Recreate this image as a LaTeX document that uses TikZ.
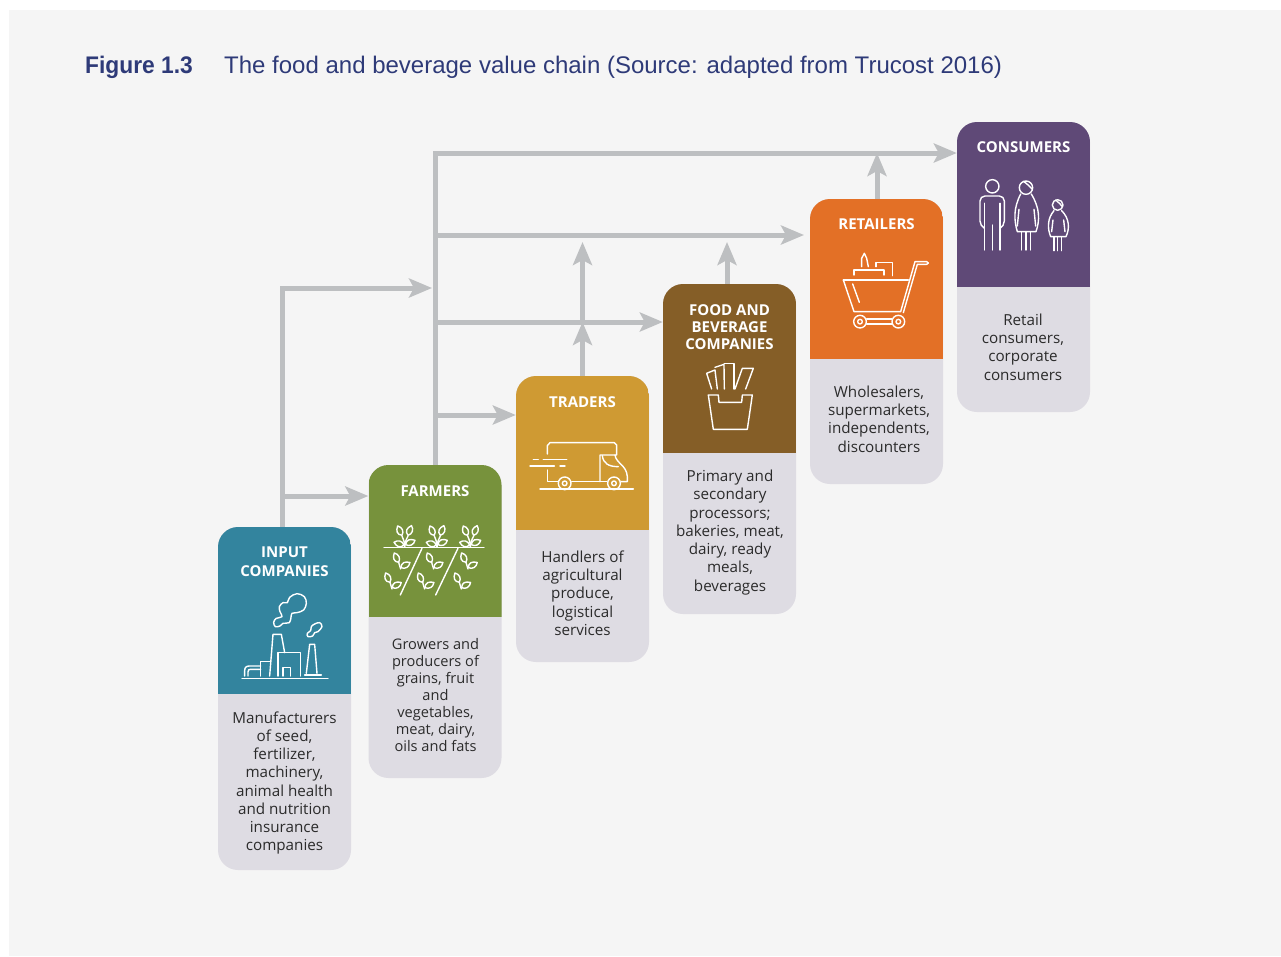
\documentclass[tikz,border=0pt]{standalone}
\usepackage{fontspec}
\setmainfont{Open Sans}
\newfontfamily\headfont{Liberation Sans}
\newfontfamily\figfont[FakeStretch=0.95]{Liberation Sans}
\usetikzlibrary{arrows.meta}
\definecolor{cPage}{HTML}{F5F5F5}
\definecolor{cNavy}{HTML}{2E3A78}
\definecolor{cFlow}{HTML}{BDBFC1}
\definecolor{cCard}{HTML}{DEDCE3}
\definecolor{cText}{HTML}{2B2B2B}
\definecolor{cInput}{HTML}{33849E}
\definecolor{cFarm}{HTML}{77923C}
\definecolor{cTrade}{HTML}{CF9A33}
\definecolor{cFood}{HTML}{855E27}
\definecolor{cRetail}{HTML}{E37026}
\definecolor{cConsume}{HTML}{5F4977}
\tikzset{card/.style n args={3}{
  shape=rectangle,
  fill=cCard,
  rounded corners=20pt,
  inner sep=0pt,
  minimum width=133pt,
  minimum height=#2,
  path picture={\fill[#1, sharp corners] (path picture bounding box.north west) rectangle ([yshift=-#3]path picture bounding box.north east);},
  }
}
\tikzset{cardtitle/.style={
  text = white,
  align = center,
  inner sep=0pt,
  font=\fontsize{15}{19}\selectfont\bfseries,
  }
}
\tikzset{cardtext/.style={
  text = cText,
  align = center,
  inner sep=0pt,
  font=\fontsize{15.2}{18.25}\selectfont,
  }
}
\tikzset{flow/.style={
  draw=cFlow,
  line width=5pt,
  -{Stealth[length=23pt,width=19pt,inset=5pt]},
  }
}
\tikzset{icon/.style={
  draw=white,
  line width=1.4pt,
  line join=round,
  line cap=round,
  }
}
\tikzset{leaf/.pic={
  \draw[icon] (0,0) .. controls (8,-13) and (20,-11) .. (31,0) .. controls (22,11) and (8,11) .. (0,0);
  }
}
\tikzset{sprout/.pic={
  \draw[icon] (0,0) -- (0,-12);
  \draw[icon] (0,0) .. controls (-1,-15) .. (-8,-32);
  \draw[icon] (0,0) .. controls (2,-15) .. (10,-32);
  \pic[rotate=165] at (-2,-5) {leaf};
  \pic[rotate=25] at (3,-6) {leaf};
  \pic[rotate=115] at (-8,-34) {leaf};
  \pic[rotate=70] at (10,-34) {leaf};
  }
}
\tikzset{shoot/.pic={
  \draw[icon] (0,0) -- (-6,-20);
  \pic[rotate=115] at (-6,-20) {leaf};
  \pic[rotate=30] at (1,-4) {leaf};
  }
}

\begin{document}
\begin{tikzpicture}[x=1pt,y=-1pt]
  \useasboundingbox (0,0) rectangle (1281,956);
  \coordinate (pageA) at (9,10);
  \coordinate (pageB) at (1281,956);
  \fill[cPage] (pageA) rectangle (pageB);

  \node[anchor=base west, inner sep=0pt, text=cNavy, font=\figfont\fontsize{24}{30}\selectfont\bfseries] (figno) at (85,73.5) {Figure 1.3};
  \node[anchor=base west, inner sep=0pt, text=cNavy, font=\headfont\fontsize{24}{30}\selectfont] (figtitle) at (224,73.5) {The food and beverage value chain (Source: adapted from Trucost 2016)};

  % cards
  \node[card={cInput}{343pt}{167pt}] (input) at (284.5,698.5) {};
  \node[card={cFarm}{313pt}{152pt}] (farmers) at (435,621.5) {};
  \node[card={cTrade}{286pt}{154pt}] (traders) at (582.5,519) {};
  \node[card={cFood}{330pt}{169pt}] (food) at (729.5,449) {};
  \node[card={cRetail}{285pt}{160pt}] (retailers) at (876.5,341.5) {};
  \node[card={cConsume}{290pt}{165pt}] (consumers) at (1023.5,267) {};

  \node[cardtitle] (inputtitle) at (284.5,562) {INPUT\\COMPANIES};
  \node[cardtitle] (farmerstitle) at (435,491.5) {FARMERS};
  \node[cardtitle] (traderstitle) at (582.5,402.5) {TRADERS};
  \node[cardtitle, font=\fontsize{15}{17}\selectfont\bfseries] (foodtitle) at (729.5,327.5) {FOOD AND\\BEVERAGE\\COMPANIES};
  \node[cardtitle] (retailerstitle) at (876.5,224.5) {RETAILERS};
  \node[cardtitle] (consumerstitle) at (1023.5,147.5) {CONSUMERS};

  \node[cardtext] (inputtext) at (284.5,783) {Manufacturers\\of seed,\\fertilizer,\\machinery,\\animal health\\and nutrition\\insurance\\companies};
  \node[cardtext, font=\fontsize{14.6}{16.85}\selectfont] (farmerstext) at (435.5,695) {Growers and\\producers of\\grains, fruit\\and\\vegetables,\\meat, dairy,\\oils and fats};
  \node[cardtext] (traderstext) at (582.5,593) {Handlers of\\agricultural\\produce,\\logistical\\services};
  \node[cardtext] (foodtext) at (730,532.5) {Primary and\\secondary\\processors;\\bakeries, meat,\\dairy, ready\\meals,\\beverages};
  \node[cardtext] (retailerstext) at (879,419) {Wholesalers,\\supermarkets,\\independents,\\discounters};
  \node[cardtext] (consumerstext) at (1023,347) {Retail\\consumers,\\corporate\\consumers};

  % flows
  \coordinate (upA) at (282.5,288);
  \coordinate (upB) at (282.5,496);
  \coordinate (spineA) at (432,288);
  \coordinate (spineB) at (435.5,153);
  \coordinate (spineC) at (435.5,235);
  \coordinate (spineD) at (435.5,322);
  \coordinate (spineE) at (435.5,415);
  \coordinate (toRetail) at (804,235);
  \coordinate (midA) at (582.5,322);
  \coordinate (midB) at (582.5,242);
  \coordinate (foodup) at (727,242);
  \coordinate (retailup) at (877,153);

  \draw[flow] ([xshift=-2pt]input.north) -- (upA) -- (spineA);
  \draw[flow] (upB) -- (farmers.west |- upB);
  \draw[flow] (spineB |- farmers.north) -- (spineB) -- (consumers.west |- spineB);
  \draw[flow] (spineC) -- (toRetail);
  \draw[flow] (spineD) -- (food.west |- spineD);
  \draw[flow] (spineE) -- (traders.west |- spineE);
  \draw[flow] (traders.north) -- (midA);
  \draw[flow] (midA) -- (midB);
  \draw[flow] (foodup |- food.north) -- (foodup);
  \draw[flow] (retailup |- retailers.north) -- (retailup);

  % factory
  \begin{scope}[shift={(218,460)},x=0.3333pt,y=-0.3333pt]
    \draw[icon] (72,655) -- (330,655);
    \draw[icon] (155,648) -- (165,523) -- (190,523) -- (200,578);
    \draw[icon] (180,648) -- (180,578) -- (247,578) -- (247,648);
    \draw[icon] (195,648) -- (195,623) -- (217,623) -- (217,648);
    \draw[icon] (128,648) -- (128,604) -- (155,604);
    \draw[icon] (80,648) -- (80,632) .. controls (80,622) and (85,618) .. (95,618) -- (128,618);
    \draw[icon] (90,648) -- (90,636) .. controls (90,630) and (92,628) .. (98,628) -- (128,628);
    \draw[icon] (265,640) -- (275,553) -- (290,553) -- (297,640);
    \draw[icon] (260,645) -- (310,645);
    \draw[icon] plot[smooth cycle, tension=0.6] coordinates {(215,412) (237,401) (259,410) (265,430) (257,450) (237,458) (222,460) (219,472) (214,488) (195,490) (186,498) (172,500) (167,487) (175,475) (192,470) (186,455) (184,440) (195,428) (208,428)};
    \draw[icon] plot[smooth cycle, tension=0.6] coordinates {(290,492) (305,488) (312,500) (300,515) (290,518) (284,528) (270,530) (268,520) (278,512) (280,500)};
  \end{scope}

  % plants
  \begin{scope}[shift={(218,460)},x=0.3333pt,y=-0.3333pt]
    \draw[icon] (498,263) -- (798,263);
    \draw[icon] (612,265) -- (547,405);
    \draw[icon] (720,265) -- (653,405);
    \pic at (560,260) {sprout};
    \pic at (657,260) {sprout};
    \pic at (757,260) {sprout};
    \pic at (548,327) {shoot};
    \pic at (647,327) {shoot};
    \pic at (750,327) {shoot};
    \pic at (522,387) {shoot};
    \pic at (620,387) {shoot};
    \pic at (730,387) {shoot};
  \end{scope}

  % truck
  \begin{scope}[shift={(515,280)},x=0.3333pt,y=-0.3333pt]
    \draw[icon] (97,522) -- (97,497) -- (105,488) -- (298,488) -- (305,495) -- (305,525) -- (255,525) -- (255,605);
    \draw[icon] (97,570) -- (97,605) -- (128,605);
    \draw[icon] (170,605) -- (276,605);
    \draw[icon] (300,525) .. controls (303,550) and (335,555) .. (337,590) -- (337,605) -- (318,605);
    \draw[icon] (262,527) .. controls (265,550) and (280,560) .. (310,560);
    \draw[icon] (75,627) -- (355,627);
    \draw[icon] (55,538) -- (70,538);
    \draw[icon] (85,538) -- (155,538);
    \draw[icon] (45,558) -- (118,558);
    \draw[icon] (135,558) -- (150,558);
    \draw[icon] (149,610) circle[radius=19];
    \draw[icon] (149,610) circle[radius=7];
    \draw[icon] (297,610) circle[radius=19];
    \draw[icon] (297,610) circle[radius=7];
  \end{scope}

  % fries
  \begin{scope}[shift={(515,280)},x=0.3333pt,y=-0.3333pt]
    \draw[icon] (580,345) -- (610,345) -- (612,367) -- (680,367) -- (682,345) -- (712,345) -- (697,448) -- (595,448) -- cycle;
    \draw[icon] (590,327) -- (575,280) -- (600,270) -- (607,327);
    \draw[icon] (600,262) -- (627,253) -- (628,327);
    \draw[icon] (628,250) -- (657,250) -- (657,327);
    \draw[icon] (660,327) -- (682,265) -- (715,265) -- (692,327);
  \end{scope}

  % cart
  \begin{scope}[shift={(810,120)},x=0.3333pt,y=-0.3333pt]
    \draw[icon] (100,480) -- (295,480);
    \draw[icon] (100,480) -- (132,575) -- (272,575) -- (315,425) -- (350,425) -- (355,429) -- (350,433) -- (322,433) -- (280,578);
    \draw[icon] (128,492) -- (148,547);
    \draw[icon] (132,465) -- (132,450) -- (222,450) -- (222,465);
    \draw[icon] (198,440) -- (198,428) -- (247,428) -- (247,467);
    \draw[icon] (155,440) -- (155,415) -- (163,400) -- (170,415) -- (175,440);
    \draw[icon] (170,597) -- (245,597);
    \draw[icon] (170,612) -- (245,612);
    \draw[icon] (150,605) circle[radius=19];
    \draw[icon] (150,605) circle[radius=7];
    \draw[icon] (265,605) circle[radius=19];
    \draw[icon] (265,605) circle[radius=7];
  \end{scope}

  % people
  \begin{scope}[shift={(810,120)},x=0.3333pt,y=-0.3333pt]
    \draw[icon] (547,199) circle[radius=20];
    \draw[icon, rounded corners=5pt] (523,325) -- (510,318) -- (510,228) -- (583,228) -- (583,318) -- (570,325);
    \draw[icon] (523,250) -- (523,390);
    \draw[icon] (570,250) -- (570,390);
    \draw[icon] (547,315) -- (547,390);
    \draw[icon] (648,203) circle[radius=20];
    \draw[icon] (640,184) .. controls (650,190) and (660,200) .. (667,208);
    \draw[icon] (632,222) .. controls (610,265) and (612,300) .. (622,335) -- (678,335) .. controls (690,300) and (690,265) .. (664,222);
    \draw[icon] (627,268) -- (622,318);
    \draw[icon] (672,268) -- (677,318);
    \draw[icon] (635,337) -- (635,390);
    \draw[icon] (648,337) -- (648,390);
    \draw[icon] (661,337) -- (661,390);
    \draw[icon] (743,255) circle[radius=16];
    \draw[icon] (737,240) .. controls (745,245) and (752,255) .. (758,260);
    \draw[icon] (732,272) .. controls (712,295) and (712,325) .. (722,350) -- (768,350) .. controls (780,325) and (778,295) .. (755,272);
    \draw[icon] (729,300) -- (725,335);
    \draw[icon] (761,300) -- (765,335);
    \draw[icon] (732,352) -- (732,392);
    \draw[icon] (743,352) -- (743,392);
    \draw[icon] (754,352) -- (754,392);
  \end{scope}
\end{tikzpicture}
\end{document}
